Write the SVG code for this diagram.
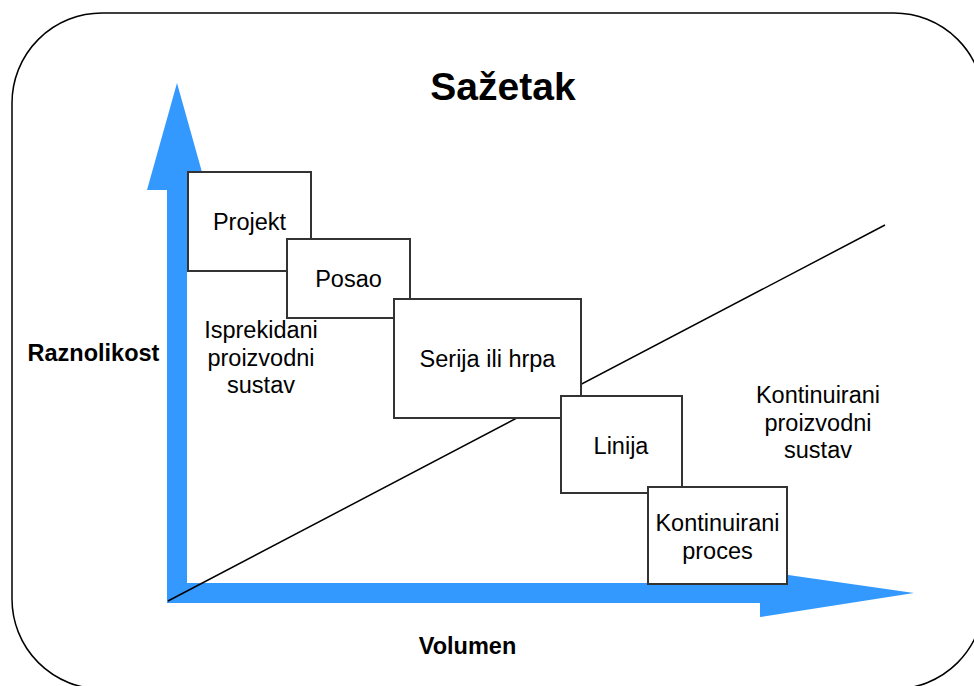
<svg xmlns="http://www.w3.org/2000/svg" width="974" height="686" viewBox="0 0 974 686">
<style>
.box{fill:#fff;stroke:#333;stroke-width:2}
.t{font-family:"Liberation Sans",Arial,sans-serif;font-size:23.5px;fill:#000;text-anchor:middle}
.b{font-family:"Liberation Sans",Arial,sans-serif;font-weight:bold;fill:#000;text-anchor:middle}
.arrow{fill:#3399FF;stroke:none}
</style>
<rect width="974" height="686" fill="#fff"/>
<g id="frame"><rect x="12" y="13" width="972" height="676" rx="90" ry="90" fill="#fff" stroke="#000" stroke-width="1.5"/></g>
<g id="title"><text class="b" x="503" y="100" font-size="39">Sažetak</text></g>
<g id="axes">
<path class="arrow" d="M167,603 L167,190 L147,190 L177,83 L207,190 L187,190 L187,603 Z"/>
<path class="arrow" d="M167,583 L760,583 L760,571 L914,593 L760,617 L760,603 L167,603 Z"/>
</g>
<g id="connectors"><line x1="168" y1="601" x2="885" y2="225" stroke="#000" stroke-width="1.5"/></g>
<g id="projekt"><rect class="box" x="188" y="172" width="123" height="99"/><text class="t" x="249.5" y="230">Projekt</text></g>
<g id="posao"><rect class="box" x="287" y="239" width="123" height="79"/><text class="t" x="348.5" y="287">Posao</text></g>
<g id="serija"><rect class="box" x="394" y="299" width="187" height="119"/><text class="t" x="487.5" y="367">Serija ili hrpa</text></g>
<g id="linija"><rect class="box" x="561" y="396" width="121" height="97"/><text class="t" x="621" y="454">Linija</text></g>
<g id="kontinuirani-proces"><rect class="box" x="648" y="487" width="139" height="97"/><text class="t" x="717.5" y="531">Kontinuirani</text><text class="t" x="717.5" y="559">proces</text></g>
<g id="isprekidani"><text class="t" x="261" y="338">Isprekidani</text><text class="t" x="261" y="366">proizvodni</text><text class="t" x="261" y="393">sustav</text></g>
<g id="kontinuirani-sustav"><text class="t" x="818" y="403">Kontinuirani</text><text class="t" x="818" y="431">proizvodni</text><text class="t" x="818" y="458">sustav</text></g>
<g id="raznolikost"><text class="b" x="93.5" y="361" font-size="23.5">Raznolikost</text></g>
<g id="volumen"><text class="b" x="467.5" y="654" font-size="23.5">Volumen</text></g>
</svg>
